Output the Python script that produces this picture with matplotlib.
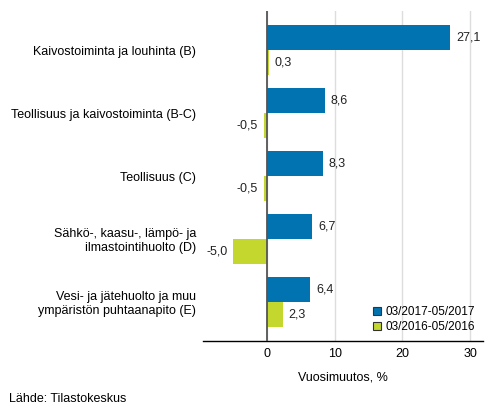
import matplotlib
matplotlib.use("Agg")
import matplotlib.pyplot as plt
from matplotlib.lines import Line2D

plt.rcParams['font.family'] = ['Liberation Sans', 'DejaVu Sans']

categories = [
    "Kaivostoiminta ja louhinta (B)",
    "Teollisuus ja kaivostoiminta (B-C)",
    "Teollisuus (C)",
    "Sähkö-, kaasu-, lämpö- ja\nilmastointihuolto (D)",
    "Vesi- ja jätehuolto ja muu\nympäristön puhtaanapito (E)",
]
series_names = ["03/2017-05/2017", "03/2016-05/2016"]
values_2017 = [27.1, 8.6, 8.3, 6.7, 6.4]
values_2016 = [0.3, -0.5, -0.5, -5.0, 2.3]
xticks = [0, 10, 20, 30]

blue = "#0073B0"
green = "#C3D72E"

fig = plt.figure(figsize=(4.93, 4.16), dpi=100)
ax = fig.add_axes([203/493, 1 - 341/416, 280/493, 330/416])

h = 0.395
ypos = list(range(len(categories)))
y1 = [y - h/2 for y in ypos]
y2 = [y + h/2 for y in ypos]
ax.barh(y1, values_2017, height=h, color=blue, zorder=3)
ax.barh(y2, values_2016, height=h, color=green, zorder=3)

fs = 9
def fmt(v):
    return f"{v:.1f}".replace(".", ",")
for yy, v in zip(y1, values_2017):
    ax.annotate(fmt(v), (v, yy), xytext=(4 if v >= 0 else -4, 0), textcoords="offset points",
                ha="left" if v >= 0 else "right", va="center", fontsize=fs, color="#222222")
for yy, v in zip(y2, values_2016):
    ax.annotate(fmt(v), (v, yy), xytext=(4 if v >= 0 else -4, 0), textcoords="offset points",
                ha="left" if v >= 0 else "right", va="center", fontsize=fs, color="#222222")

ax.set_xlim(-9.45, 31.9)
ax.set_ylim(4.62, -0.62)
ax.set_xticks(xticks)
ax.set_xticklabels([str(t) for t in xticks], fontsize=fs)
ax.set_yticks(ypos)
ax.set_yticklabels(categories, fontsize=fs)
ax.tick_params(axis='both', length=0)
ax.tick_params(axis='x', pad=5)
ax.tick_params(axis='y', pad=5)
ax.grid(axis='x', color="#DDDDDD", linewidth=1, zorder=0)
ax.axvline(0, color="#555555", linewidth=1.3, zorder=4)
for s in ["top", "right", "left"]:
    ax.spines[s].set_visible(False)
ax.spines["bottom"].set_color("black")
ax.spines["bottom"].set_linewidth(1)
ax.set_xlabel("Vuosimuutos, %", fontsize=fs, labelpad=8)

handles = [Line2D([], [], marker='s', linestyle='none', markersize=6, markerfacecolor=c,
                  markeredgecolor="#333333", markeredgewidth=0.8) for c in (blue, green)]
ax.legend(handles, series_names, loc="lower right", frameon=False, fontsize=fs - 0.5,
          handletextpad=0.2, labelspacing=0.25, borderaxespad=0.3, handlelength=1.0,
          bbox_to_anchor=(1.0, 0.0))

fig.text(9/493, 1 - 399/416, "Lähde: Tilastokeskus", fontsize=fs, va="center", ha="left")

fig.savefig("out.png", dpi=100)
